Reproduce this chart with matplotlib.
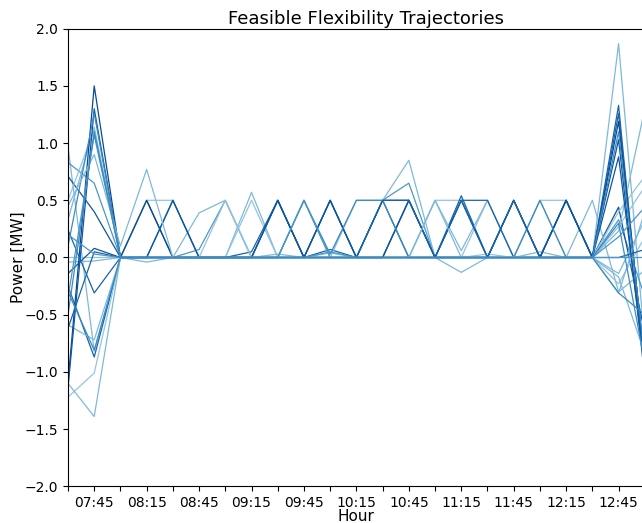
import numpy as np
import pandas as pd
import matplotlib
matplotlib.use('Agg')
import matplotlib.pyplot as plt
import matplotlib.dates as mdates

# time axis: 15 min steps from 07:30 to 13:00
times = pd.date_range('2020-01-01 07:30', '2020-01-01 13:00', freq='15min')

# trajectories (MW), one value per time step
L1 = [0.97, -0.82, 0, 0, 0, 0, 0, 0.57, 0, 0, 0, 0, 0, 0, 0, 0, 0, 0, 0, 0, 0, 1.87, -0.75]
L2 = [0.83, 0.65, 0, 0, 0, 0.07, 0.5, 0, 0, 0.5, 0, 0, 0.5, 0.65, 0, 0, 0, 0, 0, 0, 0, 0.33, -0.34]
L3 = [0.71, 0.40, 0, 0.5, 0, 0, 0, 0, 0.5, 0, 0, 0, 0.5, 0.5, 0, 0, 0, 0.5, 0, 0, 0, 0.44, -0.66]
L4 = [0.50, 1.12, 0, 0.5, 0.5, 0, 0, 0, 0, 0, 0, 0, 0, 0, 0.5, 0.5, 0, 0, 0, 0, 0, 0.40, 0.71]
L5 = [0.33, 1.14, 0, -0.04, 0, 0.39, 0.5, 0, 0, 0, 0.04, 0, 0, 0, 0, -0.13, 0, 0, 0, 0, 0.5, -0.30, -0.11]
L6 = [0.24, -0.31, 0, 0, 0.5, 0, 0, 0, 0, 0, 0.5, 0, 0, 0, 0, 0.54, 0, 0, 0, 0.5, 0, 1.33, -1.0]
L7 = [0.0, 0.0, 0, 0, 0, 0, 0, 0.5, 0, 0, 0, 0, 0, 0.5, 0, 0, 0.5, 0, 0.5, 0.5, 0, 0.27, 0.62]
L8 = [-0.04, -0.03, 0, 0, 0, 0, 0, 0, 0.03, 0, 0, 0, 0, 0, 0.5, 0.06, 0.5, 0, 0.05, 0, 0, 0.23, 1.30]
L9 = [-0.25, -0.87, 0, 0, 0, 0, 0, 0.05, 0.5, 0, 0.07, 0, 0, 0, 0, 0.5, 0.5, 0, 0, 0, 0, 1.26, -0.95]
L10 = [-0.59, -0.72, 0, 0, 0, 0, 0, 0, 0, 0, 0, 0.5, 0.5, 0.85, 0, 0, 0, 0, 0, 0, 0, -0.14, 0.33]
L11 = [-1.09, 1.50, 0, 0.5, 0, 0, 0, 0, 0, 0, 0.5, 0, 0, 0.5, 0, 0, 0, 0.5, 0, 0.5, 0, 1.19, -0.92]
L12 = [-1.14, 1.30, 0, 0, 0.5, 0, 0, 0, 0.5, 0, 0, 0, 0.5, 0, 0, 0.5, 0, 0, 0, 0.5, 0, 1.03, -1.05]
L13 = [-1.22, -1.01, 0, 0, 0, 0, 0.5, 0, 0, 0, 0, 0, 0, 0, 0, 0, 0.03, 0, 0.5, 0, 0, -0.23, 0.18]
L14 = [-1.10, -1.39, 0, 0, 0, 0, 0, 0, 0, 0, 0, 0, 0, 0, 0, 0, 0, 0, 0, 0, 0, -0.31, 0.40]
L15 = [-0.14, 0.08, 0, 0, 0, 0, 0, 0, 0.5, 0, 0.5, 0, 0, 0.5, 0, 0, 0, 0.5, 0, 0.5, 0, 0.88, -0.95]
L16 = [0.10, 1.26, 0, 0, 0, 0, 0, 0, 0, 0.5, 0.03, 0.5, 0.5, 0, 0, 0, 0, 0, 0.5, 0, 0, 1.10, -0.88]
L17 = [-0.62, 0.05, 0, 0, 0, 0, 0, 0, 0, 0, 0, 0, 0.5, 0.5, 0, 0.5, 0, 0.5, 0, 0, 0, 0.0, 0.07]
L18 = [-0.35, 1.07, 0, 0, 0, 0, 0, 0, 0, 0, 0.05, 0, 0, 0, 0, 0, 0, 0, 0, 0, 0, 0.18, 0.44]
L19 = [0.45, 0.90, 0.1, 0.77, 0, 0, 0, 0, 0, 0, 0, 0, 0, 0, 0.5, 0, 0, 0, 0, 0, 0, -0.17, -0.84]
L20 = [-0.30, -0.81, 0, 0, 0, 0, 0, 0, 0, 0, 0, 0, 0, 0, 0, 0, 0, 0, 0, 0, 0, 0.30, -0.92]
L21 = [0.20, 0.03, 0, 0, 0, 0, 0, 0, 0, 0.5, 0, 0, 0, 0, 0, 0, 0, 0, 0, 0, 0, 0.0, 0.0]
L22 = [-0.50, 1.10, 0, 0, 0, 0, 0, 0, 0, 0, 0, 0, 0, 0, 0, 0, 0, 0, 0, 0, 0, -0.31, -0.50]

trajectories = [L1, L2, L3, L4, L5, L6, L7, L8, L9, L10, L11,
                L12, L13, L14, L15, L16, L17, L18, L19, L20, L21, L22]
# shade of each trajectory in the Blues colormap
shades = [0.45, 0.6, 0.85, 0.4, 0.45, 0.8, 0.4, 0.45, 0.8, 0.45, 0.9,
          0.85, 0.4, 0.45, 0.85, 0.65, 0.8, 0.6, 0.45, 0.65, 0.6, 0.65]

fig = plt.figure(figsize=(6.42, 5.23), dpi=100)
ax = fig.add_axes([68/642, 36.7/523, (644.8-68)/642, (486.3-28.7)/523])

for vals, s in zip(trajectories, shades):
    ax.plot(times, vals, color=plt.cm.Blues(s), linewidth=0.9)

ax.set_xlim(times[0], times[-1])
ax.set_ylim(-2, 2)
ax.set_yticks(np.arange(-2, 2.01, 0.5))
ax.xaxis.set_major_locator(mdates.MinuteLocator(byminute=[15, 45]))
ax.xaxis.set_major_formatter(mdates.DateFormatter('%H:%M'))
ax.xaxis.set_minor_locator(mdates.MinuteLocator(byminute=[0, 30]))
ax.tick_params(axis='x', which='minor', length=3.5, width=0.8)
ax.tick_params(labelsize=10)

ax.set_title('Feasible Flexibility Trajectories', fontsize=13, x=0.5175, pad=3.7)
ax.set_xlabel('Hour', fontsize=11)
ax.set_ylabel('Power [MW]', fontsize=11)
ax.xaxis.set_label_coords(0.5, -0.049)
ax.yaxis.set_label_coords(-0.073, 0.5)

fig.savefig('out.png', dpi=100)
